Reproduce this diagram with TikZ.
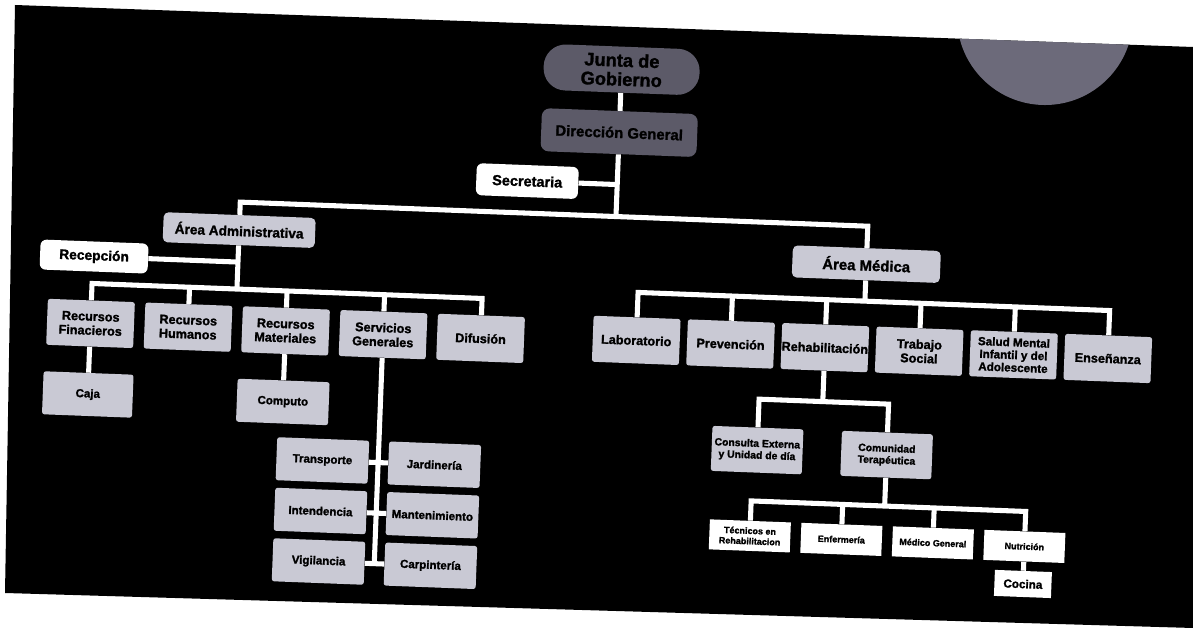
\documentclass[tikz,border=0pt]{standalone}
\usepackage{fontspec}
\setmainfont{Liberation Sans}[BoldFeatures={FakeBold=1.5}]
\usetikzlibrary{positioning}

\definecolor{darkbox}{HTML}{5C5A68}
\definecolor{lightbox}{HTML}{C9C9D4}
\definecolor{stain}{HTML}{6C6A7A}

\begin{document}
\begin{tikzpicture}[
        x=0.025cm, y=-0.025cm,
        node distance=0.25cm and 0.25cm,
        head/.style={rectangle, fill=darkbox, align=center, inner sep=0pt, minimum width=3.9cm, rounded corners=0.2cm},
        area/.style={rectangle, fill=lightbox, align=center, inner sep=0pt, minimum height=0.75cm, rounded corners=0.12cm},
        aux/.style={rectangle, fill=white, align=center, inner sep=0pt, minimum height=0.75cm, rounded corners=0.15cm},
        unit/.style={rectangle, fill=lightbox, align=center, inner sep=0pt, minimum width=2.175cm, minimum height=1.15cm, rounded corners=0.06cm, font=\bfseries\fontsize{9}{10}\selectfont},
        sub/.style={unit, minimum width=2.3cm, minimum height=1.075cm, font=\bfseries\fontsize{8.2}{9}\selectfont},
        staff/.style={rectangle, fill=white, align=center, inner sep=0pt, minimum width=2.025cm, minimum height=0.75cm, font=\bfseries\fontsize{6.4}{7.4}\selectfont},
        line/.style={draw=white, line width=3.6pt}
    ]
        % Photo background
        \useasboundingbox (0,0) rectangle (1193,628);
        \fill [white] (0,0) rectangle (1193,628);
        \fill [black] (15,5) -- (1193,47) -- (1193,628) -- (5,593) -- cycle;
        \begin{scope}
            \clip (15,5) -- (1193,47) -- (1193,628) -- (5,593) -- cycle;
            \fill [stain] (1045,17) circle [radius=2.2cm];
        \end{scope}

        \begin{scope}[transform canvas={rotate around={-2.2:(600,320)}}]
        % Top management
        \node [head, minimum height=1.15cm, rounded corners=0.55cm, font=\bfseries\fontsize{13}{13.5}\selectfont] (junta) at (612,69) {Junta de\\Gobierno};
        \node [head, minimum height=1.075cm, font=\bfseries\fontsize{10.6}{12}\selectfont] (direccion) at (612,132) {Dirección General};
        \node [aux, minimum width=2.55cm, minimum height=0.8cm, font=\bfseries\fontsize{10.3}{12}\selectfont] (secretaria) at (522,184) {Secretaria};
        \coordinate (bar_main) at (612,216);

        % Areas
        \node [area, minimum width=3.8cm, font=\bfseries\fontsize{9.7}{11}\selectfont] (area_admin) at (236,244) {Área Administrativa};
        \node [aux, minimum width=2.7cm, font=\bfseries\fontsize{9.8}{11}\selectfont] (recepcion) at (92,276) {Recepción};
        \node [area, minimum width=3.7cm, minimum height=0.8cm, font=\bfseries\fontsize{10.6}{12}\selectfont] (area_medica) at (864,254) {Área Médica};

        % Administrative departments
        \coordinate (bar_admin) at (236,303);
        \node [unit] (rec_fin) at (91,343) {Recursos\\Finacieros};
        \node [unit, right=of rec_fin] (rec_hum) {Recursos\\Humanos};
        \node [unit, right=of rec_hum] (rec_mat) {Recursos\\Materiales};
        \node [unit, right=of rec_mat] (serv_gen) {Servicios\\Generales};
        \node [unit, right=of serv_gen] (difusion) {Difusión};
        \node [sub, minimum width=2.25cm, below=0.65cm of rec_fin] (caja) {Caja};
        \node [sub, below=0.65cm of rec_mat] (computo) {Computo};

        % General services
        \node [sub] (transporte) at (328,471) {Transporte};
        \node [sub] (jardineria) at (440,471) {Jardinería};
        \node [sub, below=0.175cm of transporte] (intendencia) {Intendencia};
        \node [sub, below=0.175cm of jardineria] (mantenimiento) {Mantenimiento};
        \node [sub, below=0.175cm of intendencia] (vigilancia) {Vigilancia};
        \node [sub, below=0.175cm of mantenimiento] (carpinteria) {Carpintería};

        % Medical departments
        \coordinate (bar_medica) at (864,291);
        \node [unit] (laboratorio) at (637,339) {Laboratorio};
        \node [unit, right=0.17cm of laboratorio] (prevencion) {Prevención};
        \node [unit, right=0.17cm of prevencion] (rehabilitacion) {Rehabilitación};
        \node [unit, right=0.17cm of rehabilitacion] (trabajo_social) {Trabajo\\Social};
        \node [unit, right=0.17cm of trabajo_social, font=\bfseries\fontsize{8.3}{9}\selectfont] (salud_mental) {Salud Mental\\Infantil y del\\Adolescente};
        \node [unit, right=0.17cm of salud_mental] (ensenanza) {Enseñanza};

        % Rehabilitation
        \coordinate (bar_rehab) at (825,393);
        \node [unit, minimum width=2.275cm, minimum height=1.125cm, font=\bfseries\fontsize{7.4}{8.4}\selectfont] (consulta) at (762,444) {Consulta Externa\\y Unidad de día};
        \node [unit, minimum width=2.275cm, minimum height=1.125cm, font=\bfseries\fontsize{7.4}{8.4}\selectfont, right=0.95cm of consulta] (comunidad) {Comunidad\\Terapéutica};

        % Therapeutic community staff
        \coordinate (bar_comunidad) at (891,495);
        \node [staff] (tecnicos) at (758,530) {Técnicos en\\Rehabilitacion};
        \node [staff, right=of tecnicos] (enfermeria) {Enfermería};
        \node [staff, right=of enfermeria] (medico) {Médico General};
        \node [staff, right=of medico] (nutricion) {Nutrición};
        \node [staff, minimum width=1.425cm, minimum height=0.65cm, font=\bfseries\fontsize{8.3}{9}\selectfont, below=0.225cm of nutricion] (cocina) {Cocina};

        % Paths
        % Top
        \path [line] (junta) -- (direccion);
        \path [line] (direccion) -- (bar_main);
        \path [line] (secretaria) -- (secretaria -| bar_main);
        \path [line] (area_admin) |- (bar_main) -| (area_medica);
        % Administrative
        \path [line] (recepcion) -- (recepcion -| area_admin);
        \path [line] (area_admin) -- (bar_admin);
        \path [line] (rec_fin) -- (bar_admin -| rec_fin) -- (bar_admin -| difusion) -- (difusion);
        \path [line] (bar_admin -| rec_hum) -- (rec_hum);
        \path [line] (bar_admin -| rec_mat) -- (rec_mat);
        \path [line] (bar_admin -| serv_gen) -- (serv_gen);
        \path [line] (rec_fin) -- (caja);
        \path [line] (rec_mat) -- (computo);
        \path [line] (serv_gen) -- (serv_gen |- vigilancia);
        \path [line] (transporte) -- (jardineria);
        \path [line] (intendencia) -- (mantenimiento);
        \path [line] (vigilancia) -- (carpinteria);
        % Medical
        \path [line] (area_medica) -- (bar_medica);
        \path [line] (laboratorio) -- (bar_medica -| laboratorio) -- (bar_medica -| ensenanza) -- (ensenanza);
        \path [line] (bar_medica -| prevencion) -- (prevencion);
        \path [line] (bar_medica -| rehabilitacion) -- (rehabilitacion);
        \path [line] (bar_medica -| trabajo_social) -- (trabajo_social);
        \path [line] (bar_medica -| salud_mental) -- (salud_mental);
        \path [line] (rehabilitacion) -- (rehabilitacion |- bar_rehab);
        \path [line] (consulta) -- (bar_rehab -| consulta) -- (bar_rehab -| comunidad) -- (comunidad);
        \path [line] (comunidad) -- (comunidad |- bar_comunidad);
        \path [line] (tecnicos) -- (bar_comunidad -| tecnicos) -- (bar_comunidad -| nutricion) -- (nutricion);
        \path [line] (bar_comunidad -| enfermeria) -- (enfermeria);
        \path [line] (bar_comunidad -| medico) -- (medico);
        \path [line] (nutricion) -- (cocina);
        \end{scope}

\end{tikzpicture}
\end{document}
